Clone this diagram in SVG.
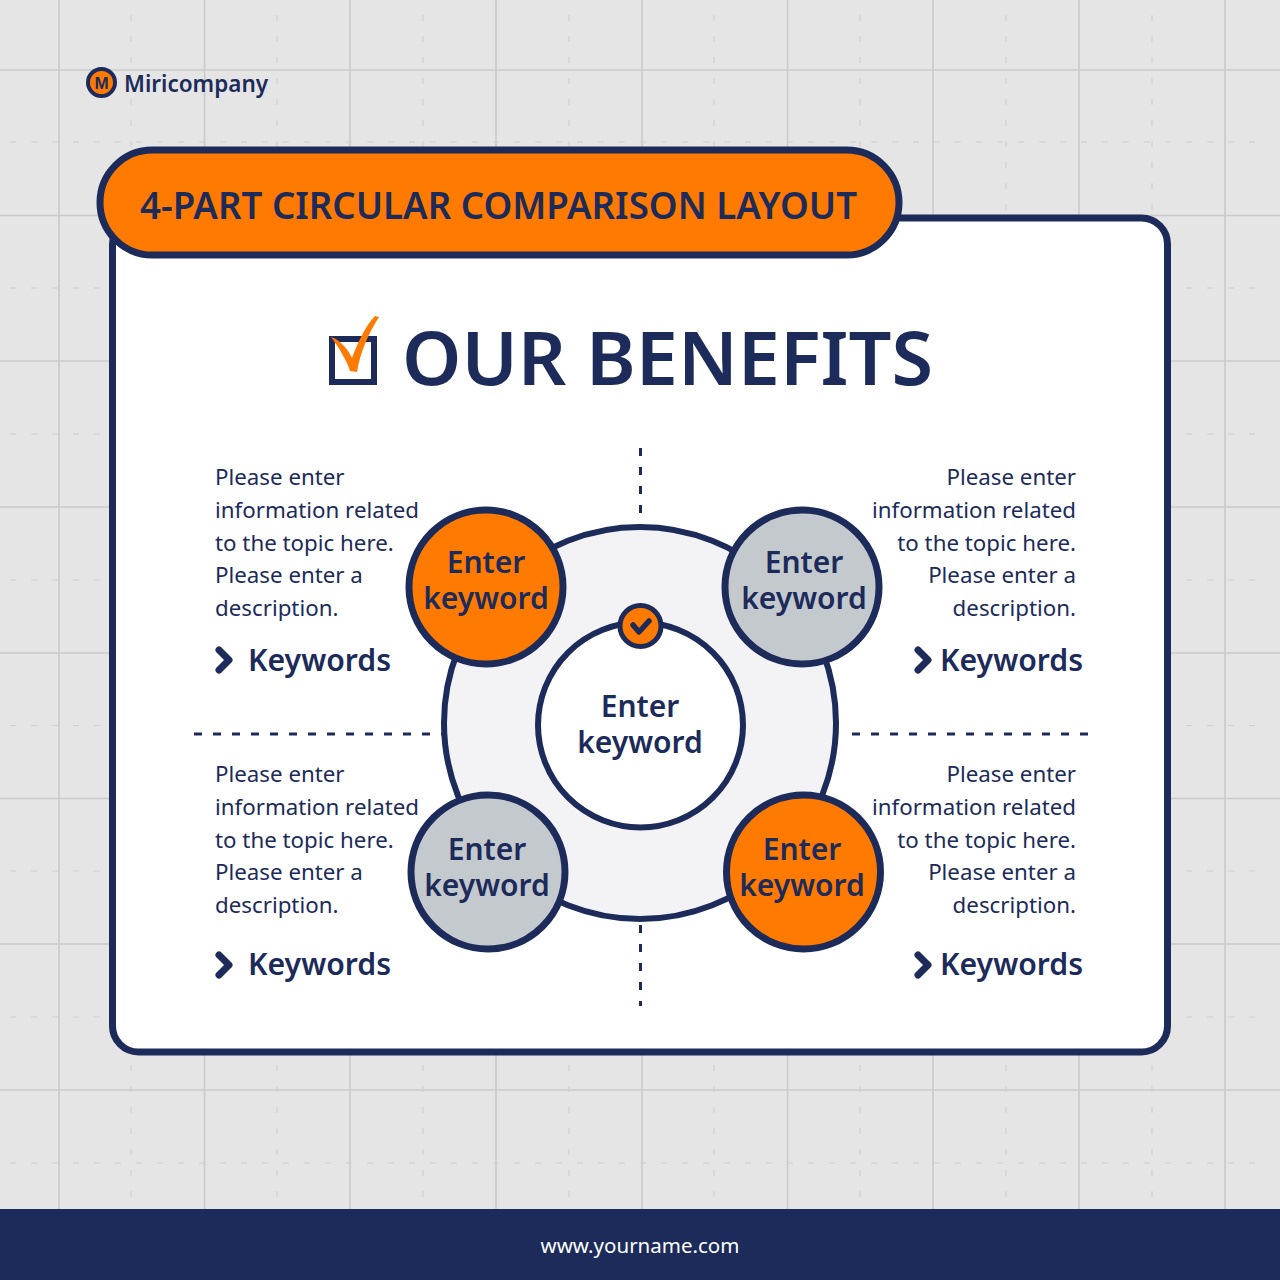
<svg xmlns="http://www.w3.org/2000/svg" width="1280" height="1280" viewBox="0 0 1280 1280">
<style>
text{font-family:"Noto Sans","Noto Sans CJK KR",sans-serif;fill:#1c2b5a}
.g{stroke:#cacaca;stroke-width:1.6;fill:none}
.gd{stroke:#d0d0d0;stroke-width:1.2;stroke-dasharray:6 15;fill:none}
.n{stroke:#1c2b5a;stroke-width:7}
.o{fill:#ff7a00}.s{fill:#c4c9ce}
.kw{font-size:30px;font-weight:600;text-anchor:middle}
.d{font-size:22.300px}
.e{text-anchor:end}
.k{font-size:30.200px;font-weight:600}
.dash{stroke:#1c2b5a;stroke-width:3;stroke-dasharray:8 11;fill:none}
.ch{stroke:#1c2b5a;stroke-width:7;fill:none;stroke-linecap:round;stroke-linejoin:round}
</style>
<rect width="1280" height="1280" fill="#e5e5e5"/>
<g id="grid">
<path class="g" d="M59 0V1209M204.600 0V1209M350 0V1209M496 0V1209M642 0V1209M787.500 0V1209M933 0V1209M1079 0V1209M1225 0V1209M0 70H1280M0 215.500H1280M0 361H1280M0 507H1280M0 653H1280M0 798.500H1280M0 944H1280M0 1090H1280"/>
<path class="gd" d="M131 15V1209M277 15V1209M423 15V1209M569 15V1209M714 15V1209M860 15V1209M1006 15V1209M1152 15V1209M10 142H1270M10 288H1270M10 434H1270M10 580H1270M10 725.500H1270M10 871H1270M10 1017H1270M10 1163H1270"/>
</g>
<g id="logo">
<circle cx="101.500" cy="82.500" r="13.500" class="o" stroke="#1c2b5a" stroke-width="4"/>
<text x="101.500" y="89" font-size="17" font-weight="700" text-anchor="middle" style="font-family:'Liberation Sans',sans-serif">M</text>
<text x="124" y="92" font-size="22.500" font-weight="600">Miricompany</text>
</g>
<g id="panel"><rect x="112.500" y="218" width="1055" height="834" rx="26" fill="#fff" class="n"/></g>
<g id="title-pill">
<rect x="100" y="150" width="799" height="105" rx="52.500" class="o n"/>
<text x="140" y="219" font-size="38" font-weight="600" textLength="717" lengthAdjust="spacingAndGlyphs">4-PART CIRCULAR COMPARISON LAYOUT</text>
</g>
<g id="heading">
<rect x="332" y="339" width="42" height="43" fill="none" stroke="#1c2b5a" stroke-width="6"/>
<path class="o" d="M331 337C340 339 349 351 352 358C358 342 366 325 375 316L379 317C369 332 360 353 357 372L350 371C347 361 338 346 331 337Z"/>
<text x="402" y="385" font-size="74" font-weight="600" textLength="531" lengthAdjust="spacingAndGlyphs">OUR BENEFITS</text>
</g>
<g id="connectors">
<path class="dash" d="M640.500 448V520M640.500 925V1006M194 734H445M852 734H1088"/>
</g>
<g id="center">
<circle id="ring" cx="640" cy="723" r="196" fill="#f3f3f6" stroke="#1c2b5a" stroke-width="6"/>
<circle cx="640.500" cy="725" r="102.500" fill="#fff" stroke="#1c2b5a" stroke-width="6"/>
<text class="kw" x="640" y="717">Enter</text>
<text class="kw" x="640" y="753">keyword</text>
</g>
<g id="badge">
<circle cx="640.500" cy="626" r="20.500" class="o" stroke="#1c2b5a" stroke-width="5"/>
<path d="M633 625L639 632L649 621" stroke="#1c2b5a" stroke-width="5.500" fill="none" stroke-linecap="round" stroke-linejoin="round"/>
</g>
<g id="node-tl">
<circle cx="486" cy="587" r="77" class="o n"/>
<text class="kw" x="486" y="573">Enter</text><text class="kw" x="486" y="609">keyword</text>
</g>
<g id="node-tr">
<circle cx="802" cy="587" r="77" class="s n"/>
<text class="kw" x="804" y="573">Enter</text><text class="kw" x="804" y="609">keyword</text>
</g>
<g id="node-bl">
<circle cx="488" cy="872" r="77" class="s n"/>
<text class="kw" x="487" y="860">Enter</text><text class="kw" x="487" y="896">keyword</text>
</g>
<g id="node-br">
<circle cx="803.500" cy="872" r="77" class="o n"/>
<text class="kw" x="802" y="860">Enter</text><text class="kw" x="802" y="896">keyword</text>
</g>
<g id="text-tl">
<text class="d" x="215" y="485">Please enter</text>
<text class="d" x="215" y="518">information related</text>
<text class="d" x="215" y="551">to the topic here.</text>
<text class="d" x="215" y="583">Please enter a</text>
<text class="d" x="215" y="616">description.</text>
<path class="ch" d="M219 650L229 660L219 670"/>
<text class="k" x="248" y="671">Keywords</text>
</g>
<g id="text-tr">
<text class="d e" x="1076" y="485">Please enter</text>
<text class="d e" x="1076" y="518">information related</text>
<text class="d e" x="1076" y="551">to the topic here.</text>
<text class="d e" x="1076" y="583">Please enter a</text>
<text class="d e" x="1076" y="616">description.</text>
<path class="ch" d="M918 650L928 660L918 670"/>
<text class="k" x="940" y="671">Keywords</text>
</g>
<g id="text-bl">
<text class="d" x="215" y="782">Please enter</text>
<text class="d" x="215" y="815">information related</text>
<text class="d" x="215" y="848">to the topic here.</text>
<text class="d" x="215" y="880">Please enter a</text>
<text class="d" x="215" y="913">description.</text>
<path class="ch" d="M219 955L229 965L219 975"/>
<text class="k" x="248" y="975">Keywords</text>
</g>
<g id="text-br">
<text class="d e" x="1076" y="782">Please enter</text>
<text class="d e" x="1076" y="815">information related</text>
<text class="d e" x="1076" y="848">to the topic here.</text>
<text class="d e" x="1076" y="880">Please enter a</text>
<text class="d e" x="1076" y="913">description.</text>
<path class="ch" d="M918 955L928 965L918 975"/>
<text class="k" x="940" y="975">Keywords</text>
</g>
<g id="footer">
<rect y="1209" width="1280" height="71" fill="#1c2b5a"/>
<text x="640" y="1252.500" font-size="20.500" text-anchor="middle" style="fill:#fff">www.yourname.com</text>
</g>
</svg>
